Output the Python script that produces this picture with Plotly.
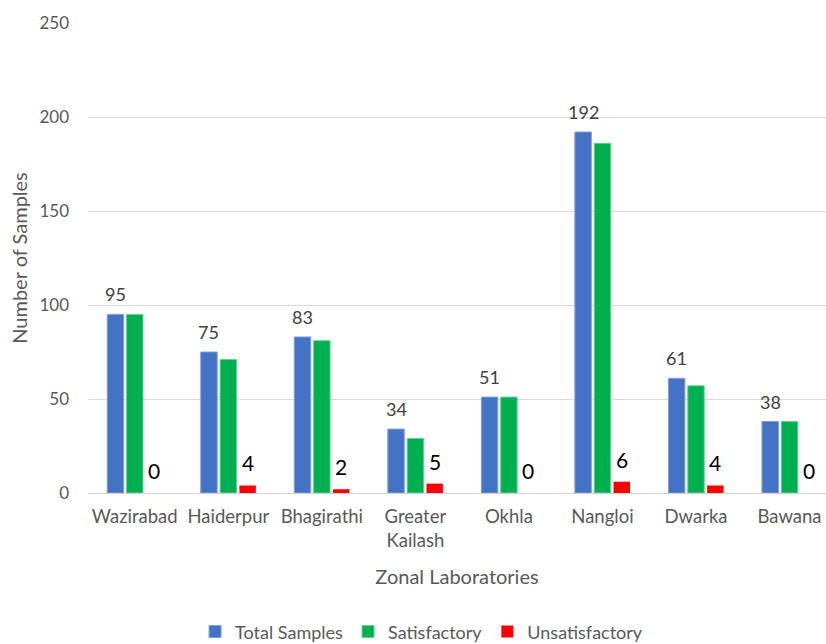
import plotly.graph_objects as go

categories = ["Wazirabad", "Haiderpur", "Bhagirathi", "Greater<br>Kailash", "Okhla", "Nangloi", "Dwarka", "Bawana"]
total_samples = [95, 75, 83, 34, 51, 192, 61, 38]
satisfactory = [95, 71, 81, 29, 51, 186, 57, 38]
unsatisfactory = [0, 4, 2, 5, 0, 6, 4, 0]

FONT = "Lato, Calibri, Carlito, sans-serif"
GRAY = "#595959"

X_RANGE = [-0.5, 7.39]
PLOT_W = 826 - 88
PX_PER_CAT = PLOT_W / (X_RANGE[1] - X_RANGE[0])
BARGAP = 0.38
SLOT = PX_PER_CAT * (1 - BARGAP) / 3

fig = go.Figure()
fig.add_trace(go.Bar(
    name="Total Samples", x=categories, y=total_samples,
    marker=dict(color="#4472C4", line=dict(color="#7F9FD8", width=1)),
))
fig.add_trace(go.Bar(
    name="Satisfactory", x=categories, y=satisfactory,
    marker=dict(color="#00B050", line=dict(color="#66D096", width=1)),
))
fig.add_trace(go.Bar(
    name="Unsatisfactory", x=categories, y=unsatisfactory,
    marker=dict(color="#FF0000", line=dict(width=0)),
))

for c, v in zip(categories, total_samples):
    fig.add_annotation(x=c, y=v, text=str(v), showarrow=False, xanchor="center",
                       yanchor="bottom", xshift=-SLOT, yshift=7,
                       font=dict(size=18, color="#404040", family=FONT))
for c, v in zip(categories, unsatisfactory):
    fig.add_annotation(x=c, y=v, text=str(v), showarrow=False, xanchor="center",
                       yanchor="bottom", xshift=SLOT, yshift=8,
                       font=dict(size=21, color="#000000", family=FONT))

fig.update_layout(
    width=826, height=644,
    margin=dict(l=88, r=0, t=23, b=151, autoexpand=False),
    paper_bgcolor="white", plot_bgcolor="white",
    barmode="group", bargap=BARGAP, bargroupgap=0.15,
    font=dict(family=FONT, color=GRAY, size=18),
    showlegend=True,
    legend=dict(orientation="h", x=0.452, xref="paper", xanchor="center",
                y=-0.256, yref="paper", yanchor="top",
                font=dict(size=18, color=GRAY), itemwidth=30,
                traceorder="normal", bgcolor="rgba(0,0,0,0)"),
)
fig.update_xaxes(
    range=X_RANGE, showgrid=False, showline=False, ticks="",
    tickfont=dict(size=18.5, color=GRAY), ticklabelstandoff=10,
    title=dict(text="Zonal Laboratories", font=dict(size=20, color=GRAY), standoff=20),
)
fig.update_yaxes(
    range=[0, 250], dtick=50, showgrid=True, gridcolor="#D9D9D9", gridwidth=1,
    zeroline=True, zerolinecolor="#D0D0D0", zerolinewidth=1,
    tickfont=dict(size=17, color=GRAY), ticks="", ticklabelstandoff=18,
    title=dict(text="Number of Samples", font=dict(size=20, color=GRAY), standoff=6),
)

fig.write_html("out.html")
